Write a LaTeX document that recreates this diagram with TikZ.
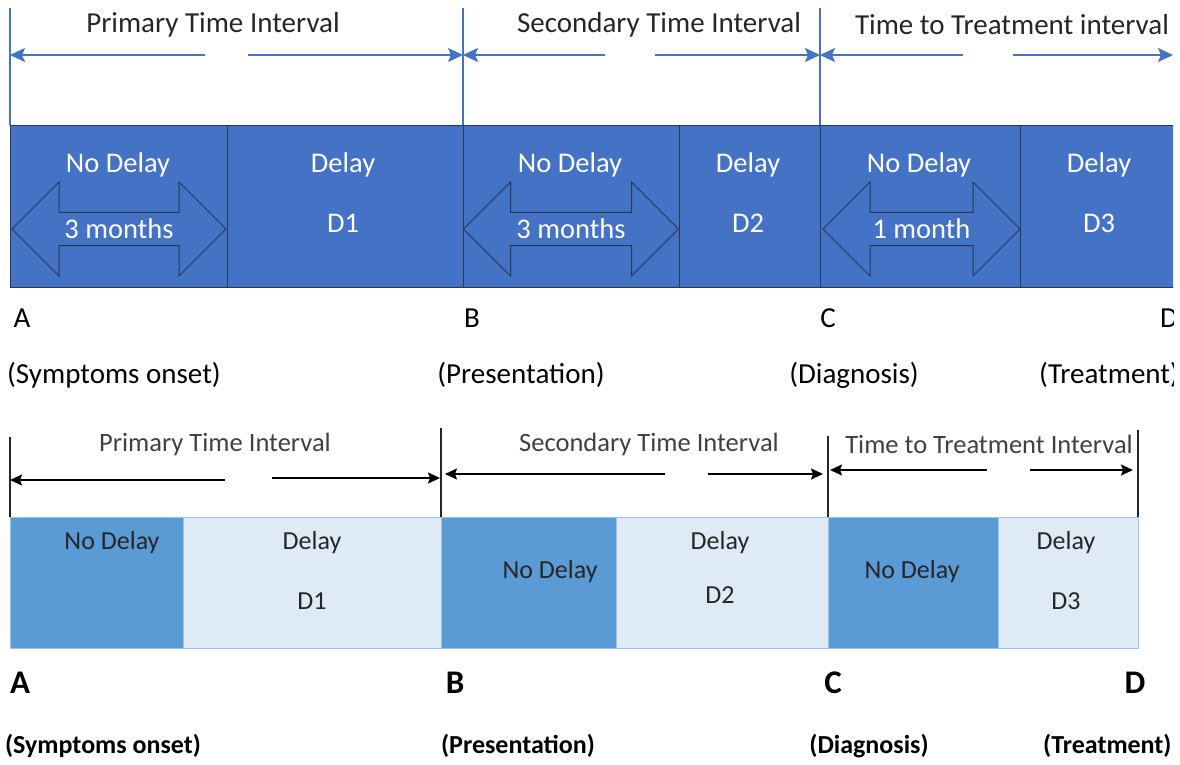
\documentclass[tikz,border=0pt]{standalone}
\usepackage{fontspec}
\setmainfont{Carlito}
\usetikzlibrary{positioning,arrows.meta,shapes.arrows}
\definecolor{BarBlue}{RGB}{68,114,196}
\definecolor{EdgeDark}{RGB}{40,55,85}
\definecolor{MidBlue}{RGB}{91,155,213}
\definecolor{PaleBlue}{RGB}{222,235,247}
\definecolor{EdgeLight}{RGB}{157,195,230}
\definecolor{InkGrey}{RGB}{38,38,38}
\tikzset{
  topseg/.style={draw=EdgeDark,line width=1pt,fill=BarBlue,minimum height=162pt,anchor=north west,inner sep=0pt},
  midseg/.style={draw=EdgeLight,line width=1pt,fill=MidBlue,minimum height=131pt,anchor=north west,inner sep=0pt},
  paleseg/.style={draw=EdgeLight,line width=1pt,fill=PaleBlue,minimum height=131pt,anchor=north west,inner sep=0pt},
  spanarrow/.style={draw=EdgeDark,line width=1pt,fill=BarBlue,shape=double arrow,double arrow head extend=23pt,
    minimum width=94pt,inner sep=2pt,text=white,font=\fontsize{28.5}{28.5}\selectfont},
  bluetick/.style={draw=BarBlue,line width=1.3pt},
  blacktick/.style={draw=InkGrey,line width=1.3pt},
  bluearrow/.style={-{Stealth[length=15pt,width=14pt,inset=3pt]},draw=BarBlue,fill=BarBlue,line width=1.6pt},
  blackarrow/.style={-{Stealth[length=12pt,width=11pt,inset=2pt]},draw=black,line width=1.8pt},
  wlabel/.style={text=white,font=\fontsize{28.5}{28.5}\selectfont,inner sep=0pt},
  dlabel/.style={text=InkGrey,font=\fontsize{26}{26}\selectfont,inner sep=0pt},
  ttitle/.style={text=InkGrey,font=\fontsize{29}{29}\selectfont,inner sep=0pt},
  btitle/.style={text=black!75,font=\fontsize{26.5}{26.5}\selectfont,inner sep=0pt},
  point/.style={text=black,font=\fontsize{29}{29}\selectfont,inner sep=0pt},
  bpoint/.style={text=black,font=\fontsize{33}{33}\selectfont\bfseries,inner sep=0pt},
  bevent/.style={text=black,font=\fontsize{26}{26}\selectfont\bfseries,inner sep=0pt},
}
\begin{document}
\begin{tikzpicture}[x=1pt,y=-1pt]
  \useasboundingbox (0,0) rectangle (1180,765);
  \clip (0,0) rectangle (1173,765);
  % top timeline
  \node[topseg,minimum width=217pt] (t1) at (10,125) {};
  \node[topseg,minimum width=236pt] (t2) at (227,125) {};
  \node[topseg,minimum width=216pt] (t3) at (463,125) {};
  \node[topseg,minimum width=141pt] (t4) at (679,125) {};
  \node[topseg,minimum width=200pt] (t5) at (820,125) {};
  \node[topseg,minimum width=170pt] (t6) at (1020,125) {};
  \node[spanarrow,minimum height=214pt] (a1) at (119,229) {3 months};
  \node[spanarrow,minimum height=215pt] (a3) at (571,229) {3 months};
  \node[spanarrow,minimum height=197pt] (a5) at (921.5,229) {1 month};
  \node[wlabel] (n1) at (118,165) {No Delay};
  \node[wlabel] (d1) at (343,165) {Delay};
  \node[wlabel] (k1) at (343,223) {D1};
  \node[wlabel] (n3) at (570,165) {No Delay};
  \node[wlabel] (d2) at (748,165) {Delay};
  \node[wlabel] (k2) at (748,223) {D2};
  \node[wlabel] (n5) at (919,165) {No Delay};
  \node[wlabel] (d3) at (1099,165) {Delay};
  \node[wlabel] (k3) at (1099,223) {D3};
  \foreach \n/\x in {A/10,B/463,C/820,D/1173} {
    \coordinate (top\n) at (\x,8);
    \coordinate (bar\n) at (\x,125);
  }
  \draw[bluetick] (topA) -- (barA);
  \draw[bluetick] (topB) -- (barB);
  \draw[bluetick] (topC) -- (barC);
  \coordinate (g1l) at (205,55); \coordinate (g1r) at (248,55);
  \coordinate (g2l) at (605,55); \coordinate (g2r) at (655,55);
  \coordinate (g3l) at (963,55); \coordinate (g3r) at (1013,55);
  \draw[bluearrow] (g1l) -- (g1l -| barA);
  \draw[bluearrow] (g1r) -- (g1r -| barB);
  \draw[bluearrow] (g2l) -- (g2l -| barB);
  \draw[bluearrow] (g2r) -- (g2r -| barC);
  \draw[bluearrow] (g3l) -- (g3l -| barC);
  \draw[bluearrow] (g3r) -- (g3r -| barD);
  \node[ttitle] (p1) at (213,25) {Primary Time Interval};
  \node[ttitle] (p2) at (659,25) {Secondary Time Interval};
  \node[ttitle] (p3) at (1012,25) {Time to Treatment interval};
  \node[point] (ptA) at (22,318) {A};
  \node[point] (ptB) at (472,318) {B};
  \node[point] (ptC) at (828,318) {C};
  \node[point,anchor=west] (ptD) at (1160,318) {D};
  \node[point] (evA) at (114,375) {(Symptoms onset)};
  \node[point] (evB) at (521,375) {(Presentation)};
  \node[point] (evC) at (854,375) {(Diagnosis)};
  \node[point,anchor=west] (evD) at (1039,375) {(Treatment)};
  % bottom timeline
  \node[midseg,minimum width=173pt] (b1) at (10,517) {};
  \node[paleseg,minimum width=258pt] (b2) at (183,517) {};
  \node[midseg,minimum width=175pt] (b3) at (441,517) {};
  \node[paleseg,minimum width=212pt] (b4) at (616,517) {};
  \node[midseg,minimum width=170pt] (b5) at (828,517) {};
  \node[paleseg,minimum width=140pt] (b6) at (998,517) {};
  \node[dlabel] (m1) at (112,543) {No Delay};
  \node[dlabel] (e1) at (312,543) {Delay};
  \node[dlabel] (f1) at (312,601) {D1};
  \node[dlabel] (m3) at (550,572) {No Delay};
  \node[dlabel] (e2) at (720,543) {Delay};
  \node[dlabel] (f2) at (720,595) {D2};
  \node[dlabel] (m5) at (912,572) {No Delay};
  \node[dlabel] (e3) at (1066,543) {Delay};
  \node[dlabel] (f3) at (1066,601) {D3};
  \coordinate (upA) at (10,437);   \coordinate (lowA) at (10,517);
  \coordinate (upB) at (441,428);  \coordinate (lowB) at (441,517);
  \coordinate (upC) at (828,436);  \coordinate (lowC) at (828,517);
  \coordinate (upD) at (1138,430); \coordinate (lowD) at (1138,517);
  \draw[blacktick] (upA) -- (lowA);
  \draw[blacktick] (upB) -- (lowB);
  \draw[blacktick] (upC) -- (lowC);
  \draw[blacktick] (upD) -- (lowD);
  \coordinate (h1l) at (225,480); \coordinate (h1r) at (272,478);
  \coordinate (h2l) at (665,474); \coordinate (h2r) at (708,474);
  \coordinate (h3l) at (987,470); \coordinate (h3r) at (1030,470);
  \draw[blackarrow] (h1l) -- (h1l -| lowA);
  \draw[blackarrow] (h1r) -- ([xshift=-1pt]h1r -| lowB);
  \draw[blackarrow] (h2l) -- ([xshift=4pt]h2l -| lowB);
  \draw[blackarrow] (h2r) -- ([xshift=-5pt]h2r -| lowC);
  \draw[blackarrow] (h3l) -- ([xshift=2pt]h3l -| lowC);
  \draw[blackarrow] (h3r) -- ([xshift=-5pt]h3r -| lowD);
  \node[btitle] (q1) at (215,444) {Primary Time Interval};
  \node[btitle] (q2) at (649,444) {Secondary Time Interval};
  \node[btitle] (q3) at (989,444) {Time to Treatment Interval};
  \node[bpoint] (qA) at (20,683) {A};
  \node[bpoint] (qB) at (455,683) {B};
  \node[bpoint] (qC) at (833,683) {C};
  \node[bpoint] (qD) at (1135,683) {D};
  \node[bevent] (fA) at (103,746) {(Symptoms onset)};
  \node[bevent] (fB) at (518,746) {(Presentation)};
  \node[bevent] (fC) at (869,746) {(Diagnosis)};
  \node[bevent,anchor=west] (fD) at (1043,746) {(Treatment)};
\end{tikzpicture}
\end{document}
